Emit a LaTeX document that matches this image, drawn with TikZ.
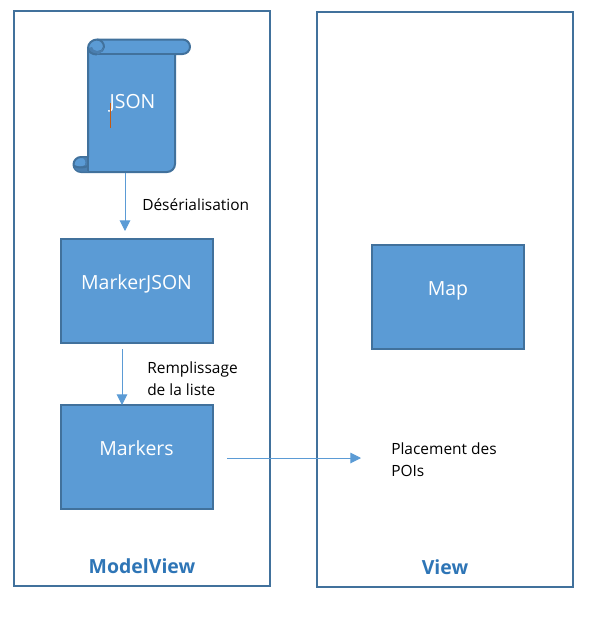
\documentclass[tikz,border=0pt]{standalone}
\usepackage{fontspec}
\setmainfont{Open Sans}
\usetikzlibrary{arrows.meta}
\definecolor{fillb}{HTML}{5B9BD5}
\definecolor{edgeb}{HTML}{41719C}
\definecolor{darkb}{HTML}{4A7EAF}
\definecolor{titleb}{HTML}{2E75B6}
\definecolor{cursor}{HTML}{C55A11}
\tikzset{
  frame/.style={draw=edgeb,line width=1.5pt,minimum width=192pt,minimum height=431.5pt,inner sep=0pt,anchor=north west},
  bluebox/.style={draw=edgeb,fill=fillb,line width=1.5pt,minimum width=114pt,minimum height=78pt,inner sep=0pt,anchor=north west},
  boxtext/.style={text=white,inner sep=0pt,font=\fontsize{14.6}{16}\selectfont},
  conn/.style={draw=fillb,line width=0.75pt,-{Triangle[length=8pt,width=8pt]}},
  lab/.style={font=\fontsize{11.6}{16.5}\selectfont,align=left,anchor=west,inner sep=0pt,text=black},
  title/.style={font=\bfseries\fontsize{14.6}{16}\selectfont,text=titleb,inner sep=0pt},
  scroll/.style={draw=edgeb,line width=1.5pt,line join=round}
}
\begin{document}
\begin{tikzpicture}[x=0.75pt,y=-0.75pt]
\useasboundingbox (0,0) rectangle (603,622);
\node[frame] (mv) at (12.7,10) {};
\node[frame] (v) at (315.7,11) {};
% scroll body
\draw[scroll,fill=fillb] (97,39.5) -- (182.5,39.5)
  .. controls (186.6,39.5) and (190,42.7) .. (190,46.75)
  .. controls (190,50.8) and (186.6,54) .. (182.5,54)
  -- (175,54) -- (175,164)
  .. controls (175,168.4) and (171.4,172) .. (167,172)
  -- (81,172)
  .. controls (76.9,172) and (73.5,168.6) .. (73.5,164.5)
  .. controls (73.5,160.4) and (76.9,157) .. (81,157)
  -- (88,157) -- (88,48)
  .. controls (88,43.3) and (92.3,39.5) .. (97,39.5) -- cycle;
% top curl
\draw[scroll] (97,39.5) .. controls (101,39.5) and (104,43) .. (104,47)
  .. controls (104,50) and (101,52) .. (98,52);
\draw[scroll] (97,54) -- (175,54);
\fill[darkb] (88,48) .. controls (88,51.8) and (92,54.5) .. (97,54.5)
  .. controls (100,54.5) and (103,51) .. (104,47)
  .. controls (102,50.5) and (99,51.5) .. (97,51)
  .. controls (94,50.5) and (92,49) .. (92,47)
  -- cycle;
\draw[scroll] (88,48) .. controls (88,51.8) and (92,54.5) .. (97,54.5);
% bottom curl
\fill[darkb] (74,165) .. controls (74,169) and (77,171.5) .. (81,171.5)
  -- (88,171.5) -- (88,157.5) -- (82,157.5)
  .. controls (85,159) and (86,161) .. (85,165)
  .. controls (82,167) and (77,167) .. (74,165) -- cycle;
\draw[scroll] (74,166) .. controls (78,168) and (83,168) .. (88,166);
\draw[scroll] (88,157) -- (88,171);
\node[boxtext] (json) at (132.5,103) {JSON};
\draw[cursor,line width=0.75pt] (110.5,103) -- (110.5,128);
\coordinate (s1) at (125,173);
\coordinate (e1) at (125,231);
\node[bluebox] (mj) at (59.7,237.7) {};
\node[boxtext] (mjt) at (136.5,284) {MarkerJSON};
\node[bluebox] (mk) at (59.7,403.7) {};
\node[boxtext] (mkt) at (136.5,448) {Markers};
\node[bluebox] (map) at (370.7,243.7) {};
\node[boxtext] (mapt) at (448,291) {Map};
\coordinate (s2) at (122,349);
\coordinate (s3) at (227,458);
\coordinate (e3) at (361,458);
\draw[conn] (s1) -- (e1);
\draw[conn] (s2) -- (122,405);
\draw[conn] (s3) -- (e3);
\node[lab] (l1) at (142,205) {Désérialisation};
\node[lab] (l2) at (147,379) {Remplissage\\de la liste};
\node[lab] (l3) at (391,460) {Placement des\\POIs};
\node[title] (t1) at (142,566) {ModelView};
\node[title] (t2) at (445,567) {View};
\end{tikzpicture}
\end{document}
